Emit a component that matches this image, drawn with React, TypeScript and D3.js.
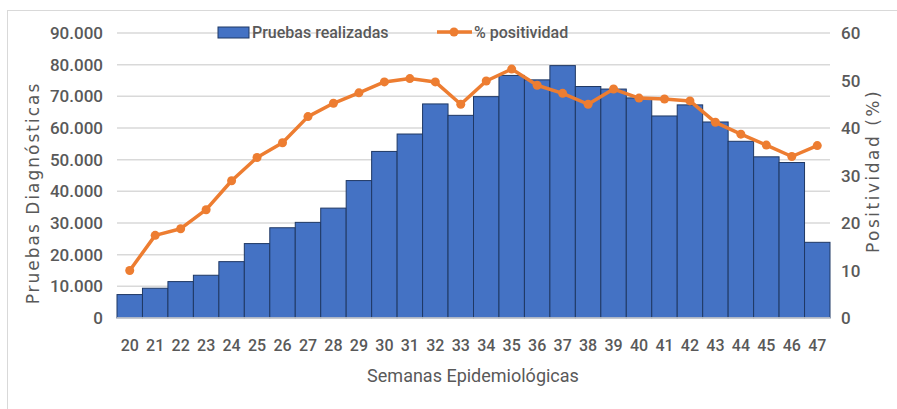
import React, { useRef, useEffect } from "react";
import * as d3 from "d3";

const weeks = [
  "20", "21", "22", "23", "24", "25", "26", "27", "28", "29", "30", "31", "32", "33",
  "34", "35", "36", "37", "38", "39", "40", "41", "42", "43", "44", "45", "46", "47",
];
const pruebas = [
  7400, 9400, 11500, 13500, 17800, 23500, 28500, 30200, 34700, 43400, 52600, 58100, 67600, 64000,
  69900, 76600, 75200, 79700, 73100, 72300, 69500, 63800, 67300, 61900, 55800, 50900, 49100, 23900,
];
const positividad = [
  10, 17.4, 18.8, 22.8, 28.9, 33.8, 36.9, 42.4, 45.2, 47.4, 49.7, 50.4, 49.7, 45,
  49.9, 52.4, 49, 47.3, 45, 48.2, 46.3, 46.1, 45.7, 41.2, 38.7, 36.4, 34, 36.3,
];
const leftTicks = [0, 10000, 20000, 30000, 40000, 50000, 60000, 70000, 80000, 90000];
const rightTicks = [0, 10, 20, 30, 40, 50, 60];

const fmt = (v: number) => (v === 0 ? "0" : d3.format(",")(v).replace(/,/g, "."));

export default function App() {
  const svgRef = useRef<SVGSVGElement>(null);

  useEffect(() => {
    const svg = d3.select(svgRef.current);
    svg.selectAll("*").remove();
    const width = 897;
    const height = 409;
    const margin = { top: 33, right: 67, bottom: 91, left: 117 };
    const font = "Roboto, sans-serif";
    const textColor = "#595959";

    svg.attr("width", width).attr("height", height);

    // frame
    svg.append("line").attr("x1", 7).attr("x2", width).attr("y1", 10.5).attr("y2", 10.5)
      .attr("stroke", "#d9d9d9").attr("stroke-width", 1);
    svg.append("line").attr("x1", 7.5).attr("x2", 7.5).attr("y1", 10).attr("y2", height)
      .attr("stroke", "#d9d9d9").attr("stroke-width", 1);

    const x = d3.scaleBand().domain(weeks).range([margin.left, width - margin.right]).padding(0);
    const y = d3.scaleLinear().domain([0, 90000]).range([height - margin.bottom, margin.top]);
    const y2 = d3.scaleLinear().domain([0, 60]).range([height - margin.bottom, margin.top]);

    // gridlines
    svg.append("g").selectAll("line").data(leftTicks.slice(1)).join("line")
      .attr("x1", margin.left).attr("x2", width - margin.right)
      .attr("y1", (d) => y(d)).attr("y2", (d) => y(d))
      .attr("stroke", "#d9d9d9").attr("stroke-width", 1.5);

    // left ticks
    svg.append("g").selectAll("text").data(leftTicks).join("text")
      .attr("x", 103).attr("y", (d) => y(d)).attr("dy", "0.36em")
      .attr("text-anchor", "end").attr("font-family", font).attr("font-size", 17)
      .attr("font-weight", 500).attr("fill", textColor).text((d) => fmt(d));

    // right ticks
    svg.append("g").selectAll("text").data(rightTicks).join("text")
      .attr("x", 841).attr("y", (d) => y2(d)).attr("dy", "0.36em")
      .attr("text-anchor", "start").attr("font-family", font).attr("font-size", 17)
      .attr("font-weight", 500).attr("fill", textColor).text((d) => String(d));

    // bars
    svg.append("g").selectAll("rect").data(pruebas).join("rect")
      .attr("x", (_d, i) => x(weeks[i])!)
      .attr("y", (d) => y(d))
      .attr("width", x.bandwidth())
      .attr("height", (d) => y(0) - y(d))
      .attr("fill", "#4472C4")
      .attr("stroke", "#1F3864")
      .attr("stroke-width", 1);

    // baseline
    svg.append("line").attr("x1", margin.left).attr("x2", width - margin.right)
      .attr("y1", y(0)).attr("y2", y(0)).attr("stroke", "#d9d9d9").attr("stroke-width", 1.5);

    // line
    const cx = (i: number) => x(weeks[i])! + x.bandwidth() / 2;
    const line = d3.line<number>().x((_d, i) => cx(i)).y((d) => y2(d));
    svg.append("path").datum(positividad).attr("d", line)
      .attr("fill", "none").attr("stroke", "#ED7D31").attr("stroke-width", 3.5)
      .attr("stroke-linejoin", "round");
    svg.append("g").selectAll("circle").data(positividad).join("circle")
      .attr("cx", (_d, i) => cx(i)).attr("cy", (d) => y2(d)).attr("r", 4.5)
      .attr("fill", "#ED7D31");

    // x ticks
    svg.append("g").selectAll("text").data(weeks).join("text")
      .attr("x", (d) => x(d)! + x.bandwidth() / 2).attr("y", 345).attr("dy", "0.36em")
      .attr("text-anchor", "middle").attr("font-family", font).attr("font-size", 16)
      .attr("font-weight", 500).attr("fill", textColor).text((d) => d);

    // axis titles
    svg.append("text").attr("x", 473).attr("y", 376).attr("dy", "0.36em")
      .attr("text-anchor", "middle").attr("font-family", font).attr("font-size", 18)
      .attr("fill", textColor).text("Semanas Epidemiológicas");
    svg.append("text").attr("transform", "translate(33,193) rotate(-90)").attr("dy", "0.36em")
      .attr("text-anchor", "middle").attr("font-family", "DejaVu Sans, sans-serif").attr("font-size", 17)
      .attr("letter-spacing", 2).attr("fill", textColor).text("Pruebas Diagnósticas");
    svg.append("text").attr("transform", "translate(873,171) rotate(-90)").attr("dy", "0.36em")
      .attr("text-anchor", "middle").attr("font-family", "DejaVu Sans, sans-serif").attr("font-size", 17)
      .attr("letter-spacing", 2.5).attr("fill", textColor).text("Positividad (%)");

    // legend
    const lg = svg.append("g");
    lg.append("rect").attr("x", 218).attr("y", 27).attr("width", 31).attr("height", 11)
      .attr("fill", "#4472C4").attr("stroke", "#1F3864").attr("stroke-width", 1);
    lg.append("text").attr("x", 252).attr("y", 32).attr("dy", "0.36em")
      .attr("font-family", font).attr("font-size", 16).attr("font-weight", 500).attr("fill", textColor)
      .text("Pruebas realizadas");
    lg.append("line").attr("x1", 437).attr("x2", 472).attr("y1", 32).attr("y2", 32)
      .attr("stroke", "#ED7D31").attr("stroke-width", 3.5);
    lg.append("circle").attr("cx", 454).attr("cy", 32).attr("r", 4.5).attr("fill", "#ED7D31");
    lg.append("text").attr("x", 474).attr("y", 32).attr("dy", "0.36em")
      .attr("font-family", font).attr("font-size", 16).attr("font-weight", 500).attr("fill", textColor)
      .text("% positividad");
  }, []);

  return (
    <div style={{ position: "absolute", left: 0, top: 0 }}>
      <svg ref={svgRef} style={{ display: "block" }}></svg>
    </div>
  );
}
